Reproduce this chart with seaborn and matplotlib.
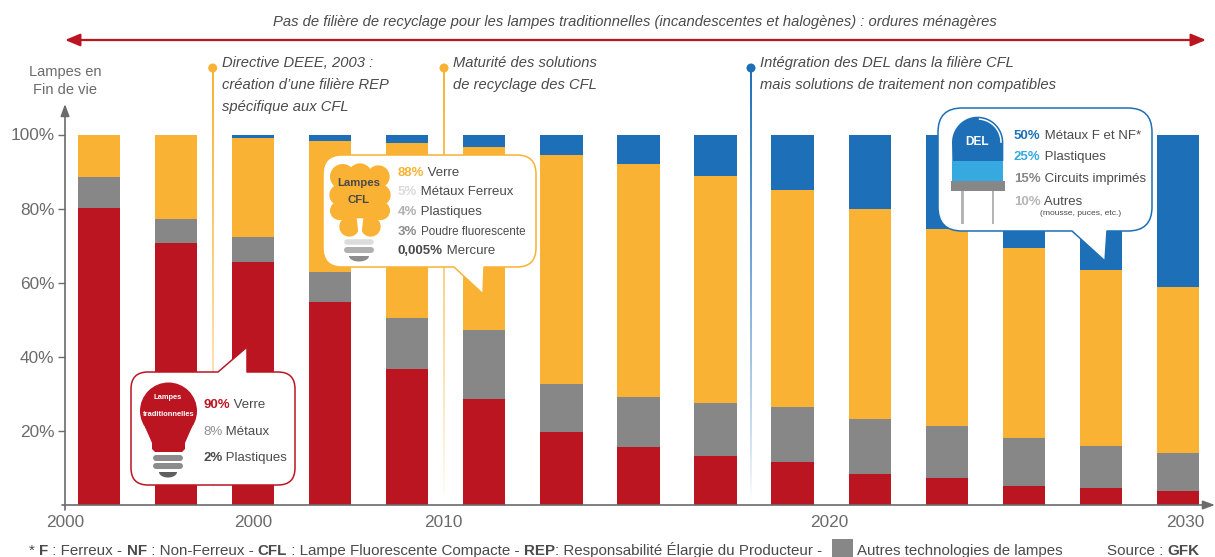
import numpy as np
import pandas as pd
import matplotlib
matplotlib.use("Agg")
import matplotlib.pyplot as plt
from matplotlib.path import Path
from matplotlib.patches import PathPatch, Circle, Rectangle, Polygon, FancyArrowPatch, ArrowStyle
from matplotlib.colors import to_rgb
import seaborn as sns

# ---- data ----
bar_ids = list(range(15))
red    = [80.1,70.6,65.6,54.7,36.7,28.6,19.7,15.6,13.3,11.6,8.5,7.4,5.2,4.5,3.9]
gray   = [8.3,6.7,6.7,8.3,13.7,18.5,13.0,13.6,14.2,14.9,14.7,13.8,12.8,11.5,10.2]
orange = [11.6,22.7,26.7,35.3,47.2,49.4,61.9,62.8,61.3,58.5,56.8,53.4,51.5,47.5,44.7]
blue   = [0,0,1,1.7,2.4,3.5,5.4,8,11.2,15,20,25.4,30.5,36.5,41.2]
y_ticks = [20,40,60,80,100]
x_tick_pos = [-0.44,2.0,4.47,9.48,14.1]
x_tick_labels = ["2000","2000","2010","2020","2030"]

C_RED, C_GRAY, C_ORANGE, C_BLUE = "#bc1522", "#878787", "#f9b233", "#1d70b7"
C_LBLUE = "#36a9e1"
C_TXT, C_AX = "#4a4a4a", "#6b6b6b"

sns.set_theme(style="white")
plt.rcParams["font.family"] = ["Liberation Sans", "DejaVu Sans"]

W, H = 1215, 557
fig = plt.figure(figsize=(W/100, H/100), dpi=100, facecolor="white")
# main axes: 0-100 % between y=505 and y=134.5 px
ax = fig.add_axes([65/W, 1-505/H, (1205-65)/W, (505-134.5)/H])

df = pd.DataFrame({"id": bar_ids, "red": red, "gray": gray, "orange": orange, "blue": blue})
stack = df[["red", "gray", "orange", "blue"]].cumsum(axis=1)
stack["id"] = df["id"]
for col, c in [("blue", C_BLUE), ("orange", C_ORANGE), ("gray", C_GRAY), ("red", C_RED)]:
    sns.barplot(data=stack, x="id", y=col, order=bar_ids, color=c, saturation=1,
                width=0.548, linewidth=0, ax=ax, errorbar=None)

ax.set_xlim(-0.441, 14.351)
ax.set_ylim(0, 100)
ax.set_xlabel(""); ax.set_ylabel("")
ax.set_yticks(y_ticks, [f"{v}%" for v in y_ticks])
ax.set_xticks(x_tick_pos, x_tick_labels)
ax.tick_params(axis="y", left=True, length=5, width=1.0, color=C_AX, labelcolor=C_AX, labelsize=12.4, pad=2.5)
ax.tick_params(axis="x", bottom=False, labelcolor=C_AX, labelsize=12.4, pad=1.5)
sns.despine(ax=ax, left=True, bottom=True, top=True, right=True)
ax.patch.set_alpha(0)

# overlay in pixel coordinates for the annotations
ov = fig.add_axes([0, 0, 1, 1], zorder=5)
ov.patch.set_alpha(0)
ov.axis("off")
rend = fig.canvas.get_renderer()


def width(s, **kw):
    a = ov.text(0, 0, s + "|", **kw); b = ov.text(0, 0, "|", **kw)
    w = a.get_window_extent(rend).width - b.get_window_extent(rend).width
    a.remove(); b.remove()
    return w


def chain(x, y, parts, size=9.5, z=10):
    for s, col, bold in parts:
        kw = dict(fontsize=size, fontweight="bold" if bold else "normal")
        ov.text(x, y + 0.5*size, s, color=col, va="baseline", ha="left", zorder=z, **kw)
        x += width(s, **kw)
    return x


def txt(x, y, s, size=11, col=C_TXT, ha="left", style="normal", weight="normal", z=10):
    ov.text(x, y + 0.5*size, s, fontsize=size, color=col, ha=ha, va="baseline", fontstyle=style, fontweight=weight, zorder=z)


def arrow(p0, p1, col, lw, ms, style):
    ov.add_patch(FancyArrowPatch(p0, p1, arrowstyle=style, mutation_scale=ms, color=col, lw=lw,
                                 shrinkA=0, shrinkB=0, zorder=3))


def fade_line(x, y0, y1, col, lw=1.6):
    r, g, b = to_rgb(col)
    n = 256
    img = np.ones((n, 1, 4)); img[..., 0] = r; img[..., 1] = g; img[..., 2] = b
    img[:, 0, 3] = np.linspace(1, 0, n) ** 0.8
    ov.imshow(img, extent=(x-lw/2, x+lw/2, y1, y0), aspect="auto", zorder=1, interpolation="bilinear")
    ov.add_patch(Circle((x, y0), 4.5, color=col, lw=0, zorder=2))


def callout(l, t, r_, b, rad, tail, col):
    a, apex, c = tail
    top_tail = apex[1] < t
    verts = [(l+rad, t)]; codes = [Path.MOVETO]
    def add(pts, code):
        verts.extend(pts); codes.extend([code]*len(pts))
    if top_tail:
        add([a, apex, c], Path.LINETO)
    add([(r_-rad, t)], Path.LINETO); add([(r_, t), (r_, t+rad)], Path.CURVE3)
    add([(r_, b-rad)], Path.LINETO); add([(r_, b), (r_-rad, b)], Path.CURVE3)
    if not top_tail:
        add([c, apex, a], Path.LINETO)
    add([(l+rad, b)], Path.LINETO); add([(l, b), (l, b-rad)], Path.CURVE3)
    add([(l, t+rad)], Path.LINETO); add([(l, t), (l+rad, t)], Path.CURVE3)
    ov.add_patch(PathPatch(Path(verts, codes), fc="white", ec=col, lw=1.1, zorder=6, joinstyle="round"))


def rbar(x0, x1, y, h, col):
    ov.plot([x0+h/2, x1-h/2], [y, y], color=col, lw=h*0.72, solid_capstyle="round", zorder=8)


def half_disc(cx, y, rx, ry, col):
    t = np.linspace(0, np.pi, 30)
    ov.add_patch(Polygon(np.c_[cx+rx*np.cos(t), y+ry*np.sin(t)], fc=col, ec="none", zorder=8))


# top banner
txt(635, 21, "Pas de filière de recyclage pour les lampes traditionnelles (incandescentes et halogènes) : ordures ménagères",
    size=10.6, style="italic", ha="center")
arrow((65, 40), (1206, 40), C_RED, 1.6, 15, ArrowStyle("<|-|>", head_length=0.6, head_width=0.25))

# axes arrows
ax_head = ArrowStyle("-|>", head_length=0.6, head_width=0.22)
arrow((65, 510), (65, 104), C_AX, 1.2, 12, ax_head)
arrow((62, 505), (1215, 505), C_AX, 1.2, 12, ax_head)
txt(65, 71, "Lampes en", size=10.5, col=C_AX, ha="center")
txt(65, 89, "Fin de vie", size=10.5, col=C_AX, ha="center")

# milestones
fade_line(212.7, 68, 500, C_ORANGE)
fade_line(444, 68, 500, C_ORANGE)
fade_line(751, 68, 500, C_BLUE)
for x, lines in [(222, ["Directive DEEE, 2003 :", "création d’une filière REP", "spécifique aux CFL"]),
                 (453, ["Maturité des solutions", "de recyclage des CFL"]),
                 (760, ["Intégration des DEL dans la filière CFL", "mais solutions de traitement non compatibles"])]:
    for i, s in enumerate(lines):
        txt(x, 62 + 21.7*i, s, size=10.6, style="italic")

# callout 1 : traditional lamps
callout(131, 372, 295, 485, 17, ((218, 372), (247, 347), (247, 372)), C_RED)
ov.add_patch(Circle((168.5, 411), 28.5, color=C_RED, lw=0, zorder=7))
ov.add_patch(Polygon([(145, 427), (152, 443), (152, 449), (155, 452), (182, 452), (185, 449), (185, 443), (192, 427)],
                     fc=C_RED, ec="none", zorder=7))
txt(168, 396, "Lampes", size=5.4, col="white", ha="center", weight="bold")
txt(168.5, 413, "traditionnelles", size=5.4, col="white", ha="center", weight="bold")
rbar(153, 183, 457.5, 6, "#8c8c8c"); rbar(153, 183, 466, 6, "#8c8c8c")
half_disc(168, 472, 9, 5.5, "#5f5f5f")
chain(203, 403, [("90%", C_RED, True), (" Verre", C_TXT, False)])
chain(203, 430, [("8%", "#8f8f8f", False), (" Métaux", C_TXT, False)])
chain(203, 456, [("2%", C_TXT, True), (" Plastiques", C_TXT, False)])

# callout 2 : CFL
callout(323, 155, 536, 267, 19, ((454, 267), (483, 294), (484, 267)), C_ORANGE)
ox, oy = 310, 140
for cx, cy, r in [(98, 110, 38), (150, 106, 36), (205, 110, 34), (90, 165, 32), (210, 165, 32), (88, 212, 28),
                  (212, 212, 28), (118, 260, 30), (182, 260, 30)]:
    ov.add_patch(Circle((ox+cx/3, oy+cy/3), r/3, color=C_ORANGE, lw=0, zorder=7))
ov.add_patch(Rectangle((ox+80/3, oy+95/3), 140/3, 145/3, fc=C_ORANGE, ec="none", zorder=7))
ov.add_patch(Polygon([(ox+140/3, oy+235/3), (ox+160/3, oy+235/3), (ox+153/3, oy+294/3), (ox+147/3, oy+294/3)],
                     fc="white", ec="none", zorder=7.5))
txt(359, 182, "Lampes", size=8.2, col=C_TXT, ha="center", weight="bold")
txt(359, 199, "CFL", size=8.2, col=C_TXT, ha="center", weight="bold")
rbar(344, 374, 241.5, 5.5, "#dcdcdc"); rbar(344, 374, 250, 6, "#b0b0b0")
half_disc(359, 256, 10, 5.5, "#8c8c8c")
chain(398, 171, [("88%", C_ORANGE, True), (" Verre", C_TXT, False)])
chain(398, 190.5, [("5%", "#dadada", True), (" Métaux Ferreux", C_TXT, False)])
chain(398, 210, [("4%", "#b0b0b0", True), (" Plastiques", C_TXT, False)])
x3 = chain(398, 230, [("3%", "#8c8c8c", True), (" ", C_TXT, False)])
chain(x3, 230.5, [("Poudre fluorescente", C_TXT, False)], size=8.4)
chain(398, 249.5, [("0,005%", C_TXT, True), (" Mercure", C_TXT, False)])

# callout 3 : LED
callout(938, 108, 1152, 231, 24, ((1072, 231), (1105, 261), (1107, 231)), C_BLUE)
ox, oy = 925, 100
t = np.linspace(np.pi, 2*np.pi, 50)
dome = np.c_[ox+(158+77*np.cos(t))/3, oy+(127+77*np.sin(t))/3]
ov.add_patch(Polygon(np.vstack([dome, [(ox+235/3, oy+183/3), (ox+82/3, oy+183/3)]]), fc=C_BLUE, ec="none", zorder=7))
ov.add_patch(Rectangle((ox+82/3, oy+183/3), 153/3, 60/3, fc=C_LBLUE, ec="none", zorder=7))
ov.add_patch(Rectangle((ox+77/3, oy+243/3), 163/3, 30/3, fc="#878787", ec="none", zorder=7))
for lx in (112, 204):
    ov.add_patch(Rectangle((ox+(lx-4)/3, oy+273/3), 8/3, 100/3, fc="#b5b5b5", ec="none", zorder=7))
ta = np.linspace(-1.5, 0.0, 30)
ov.plot(ox+(158+70*np.cos(ta))/3, oy+(127+70*np.sin(ta))/3, color="white", lw=1.1, zorder=8)
txt(977, 141, "DEL", size=8.6, col="white", ha="center", weight="bold")
chain(1014, 134, [("50%", C_BLUE, True), (" Métaux F et NF*", C_TXT, False)])
chain(1014, 155.5, [("25%", C_LBLUE, True), (" Plastiques", C_TXT, False)])
chain(1014, 177.5, [("15%", "#878787", True), (" Circuits imprimés", C_TXT, False)])
chain(1014, 200, [("10%", "#b5b5b5", True), (" Autres", C_TXT, False)])
txt(1040.5, 212, "(mousse, puces, etc.)", size=6.1)

# footer
chain(29, 549.5, [("* ", C_TXT, False), ("F", C_TXT, True), (" : Ferreux - ", C_TXT, False), ("NF", C_TXT, True),
                (" : Non-Ferreux - ", C_TXT, False), ("CFL", C_TXT, True), (" : Lampe Fluorescente Compacte - ", C_TXT, False),
                ("REP", C_TXT, True), (": Responsabilité Élargie du Producteur - ", C_TXT, False)], size=10.9)
ov.add_patch(Rectangle((832, 539), 21, 18, fc="#878787", ec="none", zorder=4))
txt(857, 549.5, "Autres technologies de lampes", size=10.8)
chain(1107, 549.5, [("Source : ", C_TXT, False), ("GFK", C_TXT, True)], size=10.9)

ov.set_xlim(0, W); ov.set_ylim(H, 0)
fig.savefig("out.png", dpi=100)
